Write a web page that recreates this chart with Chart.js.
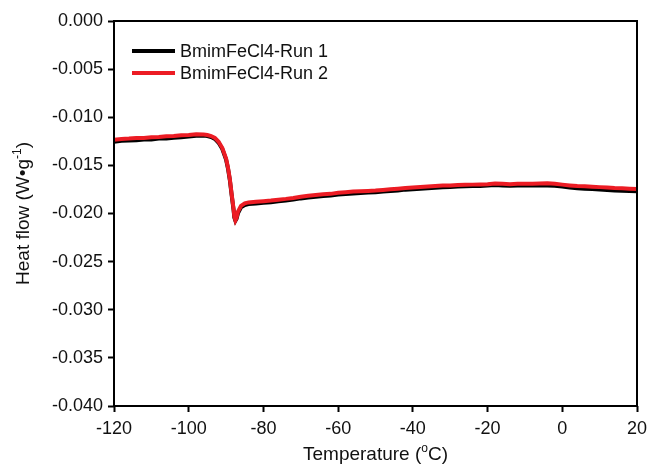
<!DOCTYPE html>
<html>
<head>
<meta charset="utf-8">
<script src="https://cdn.jsdelivr.net/npm/chart.js@4"></script>
<style>
  html, body { margin: 0; padding: 0; background: #fff; }
  #wrap { width: 648px; height: 464px; }
</style>
</head>
<body>
<div id="wrap"><canvas id="c" width="648" height="464"></canvas></div>
<script>
// ---- data
var temps = [-120, -118, -116, -114, -112, -110, -108, -106, -104, -102, -100, -98, -96, -95, -94, -93, -92, -91, -90, -89.5, -89, -88.5, -88, -87.8, -87.5, -87.2, -86.8, -86, -85, -84, -82, -80,
  -78, -76, -74, -72, -70, -68, -66, -64, -62, -60, -58, -56, -54, -52, -50, -48, -46, -44, -42, -40,
  -38, -36, -34, -32, -30, -28, -26, -24, -22, -20, -18, -16, -14, -12, -10, -8, -6, -4, -2, 0,
  2, 4, 6, 8, 10, 12, 14, 16, 18, 20];

var run1 = [-0.01255, -0.01245, -0.01242, -0.01238, -0.01232, -0.01230, -0.01222, -0.01220, -0.01212, -0.01207, -0.01200, -0.01193, -0.01190, -0.01195, -0.01205, -0.01225, -0.01265, -0.01330, -0.01440, -0.01530, -0.01650, -0.01810, -0.01960, -0.02040, -0.02075, -0.02055, -0.01995, -0.01935, -0.01912, -0.01902, -0.01895, -0.01888,
  -0.01882, -0.01872, -0.01866, -0.01855, -0.01843, -0.01835, -0.01826, -0.01818, -0.01813, -0.01803, -0.01797, -0.01792, -0.01786, -0.01783, -0.01780, -0.01772, -0.01766, -0.01760, -0.01752, -0.01748,
  -0.01742, -0.01738, -0.01732, -0.01727, -0.01725, -0.01720, -0.01718, -0.01715, -0.01713, -0.01710, -0.01705, -0.01708, -0.01712, -0.01710, -0.01708, -0.01709, -0.01707, -0.01708, -0.01712, -0.01720,
  -0.01730, -0.01737, -0.01742, -0.01746, -0.01750, -0.01755, -0.01760, -0.01763, -0.01766, -0.01770];

var run2 = [-0.01235, -0.01225, -0.01222, -0.01216, -0.01215, -0.01208, -0.01205, -0.01198, -0.01195, -0.01188, -0.01185, -0.01177, -0.01180, -0.01185, -0.01195, -0.01215, -0.01255, -0.01320, -0.01430, -0.01520, -0.01640, -0.01800, -0.01950, -0.02030, -0.02070, -0.02045, -0.01980, -0.01920, -0.01895, -0.01885, -0.01878, -0.01872,
  -0.01865, -0.01856, -0.01848, -0.01838, -0.01825, -0.01816, -0.01808, -0.01800, -0.01796, -0.01785, -0.01779, -0.01772, -0.01768, -0.01765, -0.01762, -0.01755, -0.01748, -0.01742, -0.01735, -0.01730,
  -0.01725, -0.01720, -0.01715, -0.01710, -0.01708, -0.01705, -0.01702, -0.01700, -0.01698, -0.01695, -0.01688, -0.01692, -0.01695, -0.01692, -0.01690, -0.01690, -0.01688, -0.01687, -0.01692, -0.01700,
  -0.01708, -0.01715, -0.01718, -0.01722, -0.01726, -0.01730, -0.01735, -0.01738, -0.01742, -0.01745];

var seriesNames = ["BmimFeCl4-Run 1", "BmimFeCl4-Run 2"];
var seriesColors = ["#000000", "#ec1c24"];

function pts(ys) {
  return temps.map(function (t, i) { return { x: t, y: ys[i] }; });
}

var FONT = "'Liberation Sans', Arial, sans-serif";

// frame, legend and axis titles with superscripts
var extras = {
  id: 'extras',
  afterDraw: function (chart) {
    var ctx = chart.ctx, a = chart.chartArea;
    ctx.save();
    ctx.strokeStyle = '#000';
    ctx.lineWidth = 2;
    ctx.strokeRect(a.left, a.top, a.right - a.left, a.bottom - a.top);

    // legend
    ctx.font = '18px ' + FONT;
    ctx.textBaseline = 'middle';
    ctx.textAlign = 'left';
    for (var i = 0; i < seriesNames.length; i++) {
      var y = 51 + i * 22;
      ctx.strokeStyle = seriesColors[i];
      ctx.lineWidth = 4;
      ctx.beginPath();
      ctx.moveTo(132, y);
      ctx.lineTo(175, y);
      ctx.stroke();
      ctx.fillStyle = '#111';
      ctx.fillText(seriesNames[i], 180, y + 1);
    }

    // x title
    ctx.fillStyle = '#111';
    ctx.textBaseline = 'alphabetic';
    var big = '19px ' + FONT, small = '12px ' + FONT;
    var parts = [['Temperature (', big, 0], ['o', small, -8], ['C)', big, 0]];
    var w = 0;
    parts.forEach(function (p) { ctx.font = p[1]; w += ctx.measureText(p[0]).width; });
    var x = (a.left + a.right) / 2 - w / 2;
    parts.forEach(function (p) {
      ctx.font = p[1];
      ctx.fillText(p[0], x, 460 + p[2]);
      x += ctx.measureText(p[0]).width;
    });

    // y title
    ctx.translate(29, (a.top + a.bottom) / 2);
    ctx.rotate(-Math.PI / 2);
    var yparts = [['Heat flow (W\u2022g', big, 0], ['-1', small, -8], [')', big, 0]];
    w = 0;
    yparts.forEach(function (p) { ctx.font = p[1]; w += ctx.measureText(p[0]).width; });
    x = -w / 2;
    yparts.forEach(function (p) {
      ctx.font = p[1];
      ctx.fillText(p[0], x, 0 + p[2]);
      x += ctx.measureText(p[0]).width;
    });
    ctx.restore();
  }
};

new Chart(document.getElementById('c'), {
  type: 'line',
  data: {
    datasets: [
      { label: seriesNames[0], data: pts(run1), borderColor: seriesColors[0], borderWidth: 4, pointRadius: 0, tension: 0, order: 2 },
      { label: seriesNames[1], data: pts(run2), borderColor: seriesColors[1], borderWidth: 4, pointRadius: 0, tension: 0, order: 1 }
    ]
  },
  options: {
    responsive: false,
    animation: false,
    layout: { padding: { left: 0, right: 11, top: 21, bottom: 0 } },
    plugins: { legend: { display: false }, tooltip: { enabled: false } },
    scales: {
      x: {
        type: 'linear', min: -120, max: 20,
        afterFit: function (s) { s.height = 58; s.paddingLeft = 0; s.paddingRight = 0; },
        grid: { display: true, drawOnChartArea: false, drawTicks: true, tickLength: 6, tickWidth: 2, tickColor: '#000' },
        border: { display: false },
        ticks: { stepSize: 20, color: '#111', font: { size: 18, family: FONT }, padding: 6, maxRotation: 0 }
      },
      y: {
        min: -0.04, max: 0,
        afterFit: function (s) { s.width = 114; s.paddingTop = 0; s.paddingBottom = 0; },
        grid: { display: true, drawOnChartArea: false, drawTicks: true, tickLength: 6, tickWidth: 2, tickColor: '#000' },
        border: { display: false },
        ticks: { stepSize: 0.005, color: '#111', font: { size: 18, family: FONT }, padding: 5,
          callback: function (v) { return v.toFixed(3); } }
      }
    }
  },
  plugins: [extras]
});
</script>
</body>
</html>
